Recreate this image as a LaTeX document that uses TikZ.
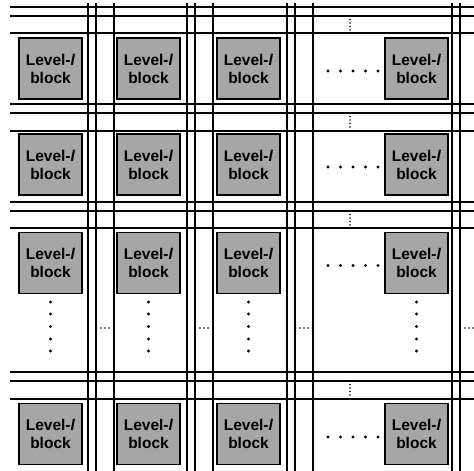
\documentclass[tikz,border=0pt]{standalone}
\usepackage{fontspec}
\newfontfamily\blockfont{Liberation Sans}
\usepackage{tikz}

\begin{document}
\begin{tikzpicture}[x=1pt, y=-1pt, block/.style={draw, line width=1.3pt, fill=black!35, align=center, inner sep=0pt, minimum width=63pt, minimum height=61pt, font=\blockfont\bfseries\fontsize{15.5}{18}\selectfont}, wire/.style={line width=1.3pt}, bigdot/.style={fill=black}, tinydot/.style={fill=black}]
\useasboundingbox (0,0) rectangle (474,471);
% horizontal buses
\foreach \y in {7,16,33,104,113,131,202,211,228,372,381,399}
  \draw[wire] (10,\y) -- (474,\y);
% vertical buses
\foreach \x in {88,96,114,187,195,213,287,295,313,452,460}
  \draw[wire] (\x,3) -- (\x,471);
% blocks
\node[block] (b11) at (50.5,68.5) {Level-\textit{l}\\block};
\node[block] (b12) at (148.5,68.5) {Level-\textit{l}\\block};
\node[block] (b13) at (248.5,68.5) {Level-\textit{l}\\block};
\node[block] (b14) at (416.5,68.5) {Level-\textit{l}\\block};
\node[block] (b21) at (50.5,164.5) {Level-\textit{l}\\block};
\node[block] (b22) at (148.5,164.5) {Level-\textit{l}\\block};
\node[block] (b23) at (248.5,164.5) {Level-\textit{l}\\block};
\node[block] (b24) at (416.5,164.5) {Level-\textit{l}\\block};
\node[block] (b31) at (50.5,263) {Level-\textit{l}\\block};
\node[block] (b32) at (148.5,263) {Level-\textit{l}\\block};
\node[block] (b33) at (248.5,263) {Level-\textit{l}\\block};
\node[block] (b34) at (416.5,263) {Level-\textit{l}\\block};
\node[block] (b41) at (50.5,434) {Level-\textit{l}\\block};
\node[block] (b42) at (148.5,434) {Level-\textit{l}\\block};
\node[block] (b43) at (248.5,434) {Level-\textit{l}\\block};
\node[block] (b44) at (416.5,434) {Level-\textit{l}\\block};
% dots between rows and columns
\foreach \x in {50.5,148.5,248.5,416.5}
  \foreach \y in {302,314,326.5,339,351}
    \fill[bigdot] (\x,\y) circle (1.6pt);
\foreach \y in {71,167,265.5,437}
  \foreach \x in {328,340.5,353,365.5,378}
    \fill[bigdot] (\x,\y) circle (1.6pt);
\foreach \y in {16,113,211,381}
  \foreach \d in {3.5,7,10.5,14}
    \fill[tinydot] (350,\y+\d) circle (0.85pt);
\foreach \x in {96,195,295,460}
  \foreach \d in {5,9,13}
    \fill[tinydot] (\x+\d,328) circle (0.85pt);
\end{tikzpicture}
\end{document}
